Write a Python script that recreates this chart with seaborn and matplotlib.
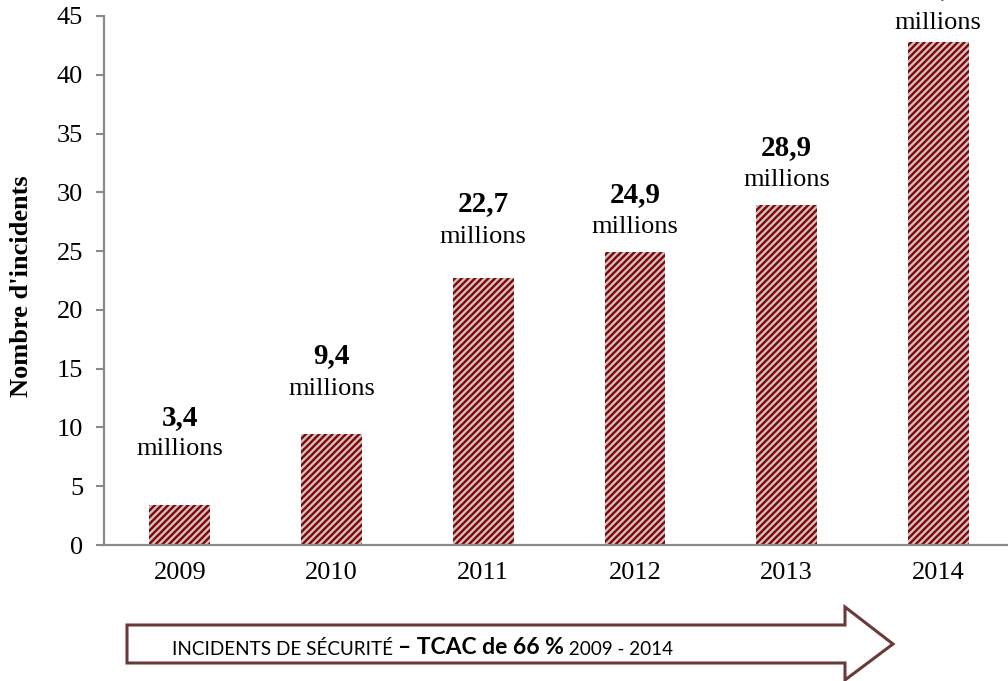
import matplotlib
matplotlib.use("Agg")
import matplotlib.pyplot as plt
from matplotlib.patches import Polygon
from matplotlib.text import Annotation
import seaborn as sns
import pandas as pd

# ---- data ----
years = ["2009", "2010", "2011", "2012", "2013", "2014"]
incidents = [3.4, 9.4, 22.7, 24.9, 28.9, 42.8]
value_labels = ["3,4", "9,4", "22,7", "24,9", "28,9", "42,8"]
unit_label = "millions"
y_ticks = [0, 5, 10, 15, 20, 25, 30, 35, 40, 45]
y_title = "Nombre d'incidents"
arrow_parts = ["INCIDENTS DE SÉCURITÉ ", "– TCAC de 66 %", " 2009 - 2014"]

# ---- layout (label baselines in data units) ----
num_base = [10.2, 15.5, 28.4, 29.2, 33.17, 46.8]
unit_base = [7.66, 12.76, 25.7, 26.55, 30.5, 43.9]

sns.set_style("white")
plt.rcParams["font.family"] = ["Liberation Serif", "DejaVu Serif"]
plt.rcParams["text.color"] = "black"
plt.rcParams["xtick.color"] = "black"
plt.rcParams["ytick.color"] = "black"
plt.rcParams["axes.labelcolor"] = "black"
plt.rcParams["hatch.linewidth"] = 1.7

W, H = 1008, 681
fig = plt.figure(figsize=(W / 100, H / 100), dpi=100)
ax = fig.add_axes([104 / W, 1 - 545 / H, 910 / W, 529 / H])

df = pd.DataFrame({"annee": years, "incidents": incidents})
sns.barplot(data=df, x="annee", y="incidents", ax=ax, color="#c4c4c4",
            saturation=1, width=0.4)
for p in ax.patches:
    p.set_facecolor("#c6c6c6")
    p.set_edgecolor("#8b0000")
    p.set_linewidth(0)
    p.set_hatch("/////")

ax.set_xlim(-0.5, 5.5)
ax.set_ylim(0, 45)
ax.set_yticks(y_ticks)
ax.set_xlabel("")
ax.set_ylabel(y_title, fontsize=19, fontweight="bold")
ax.yaxis.set_label_coords(-0.078, 0.49)

for s in ["top", "right"]:
    ax.spines[s].set_visible(False)
for s in ["left", "bottom"]:
    ax.spines[s].set_color("#898989")
    ax.spines[s].set_linewidth(1.6)
ax.tick_params(axis="y", length=6, width=1.5, color="#898989", pad=9,
               labelsize=19, left=True, labelcolor="black")
ax.tick_params(axis="x", length=0, pad=12, labelsize=19, labelcolor="black")

for i, (nl, nb, ub) in enumerate(zip(value_labels, num_base, unit_base)):
    ax.text(i, nb, nl, ha="center", va="baseline", fontsize=21,
            fontweight="bold", clip_on=False)
    ax.text(i, ub, unit_label, ha="center", va="baseline", fontsize=19,
            clip_on=False)

# ---- bottom arrow ----
pts_px = [(127, 625), (845, 625), (845, 607), (893, 644), (845, 680),
          (845, 663), (127, 663)]
pts = [(x / W, 1 - y / H) for x, y in pts_px]
fig.add_artist(Polygon(pts, closed=True, facecolor="white",
                       edgecolor="#6a3a3a", linewidth=2.2,
                       transform=fig.transFigure, zorder=1))

sans = ["Lato", "DejaVu Sans"]
t1 = fig.text(172 / W, 1 - 655 / H, arrow_parts[0], fontsize=13.6,
              family=sans, va="baseline", ha="left", zorder=5)
t2 = Annotation(arrow_parts[1], xy=(1, 0), xycoords=t1, fontsize=16.5,
                fontweight="bold", family=sans, va="bottom", ha="left",
                zorder=5)
fig.add_artist(t2)
t3 = Annotation(arrow_parts[2], xy=(1, 0), xycoords=t2, fontsize=13.6,
                family=sans, va="bottom", ha="left", zorder=5)
fig.add_artist(t3)

fig.savefig("out.png", dpi=100)
